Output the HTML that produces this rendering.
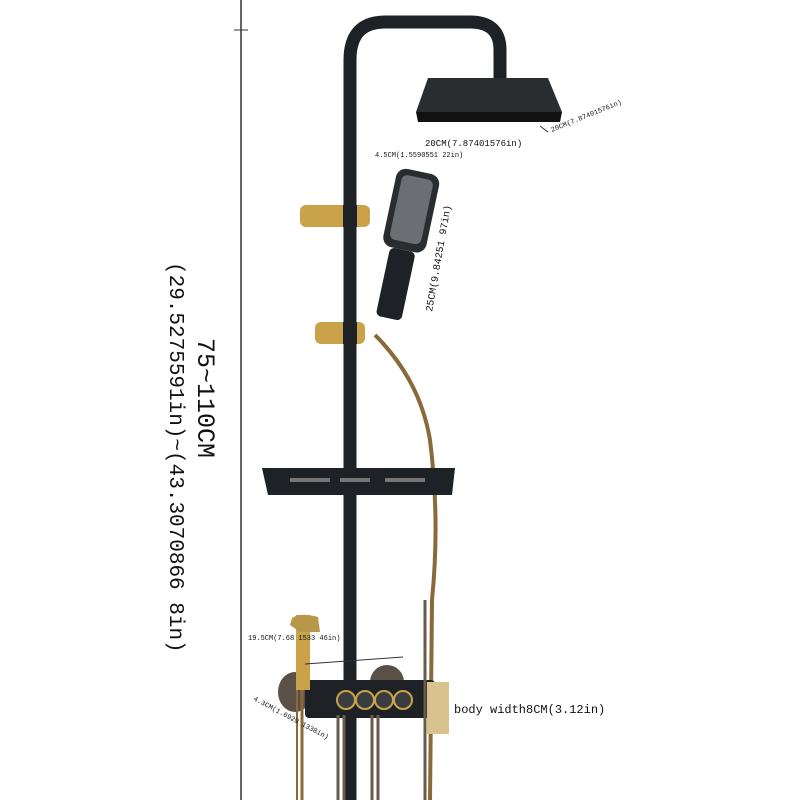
<!DOCTYPE html>
<html><head><style>
html,body{margin:0;padding:0;background:#fff}
svg{display:block}
text{font-family:"Liberation Mono",monospace;fill:#111}
</style></head><body>
<svg width="800" height="800" viewBox="0 0 800 800" xmlns="http://www.w3.org/2000/svg">
<rect width="800" height="800" fill="#fff"/>
<line x1="241" y1="0" x2="241" y2="800" stroke="#333" stroke-width="1.5"/>
<line x1="234" y1="30" x2="248" y2="30" stroke="#333"/>
<text transform="translate(198,338) rotate(90)" font-size="25" font-family="Liberation Sans">75~110CM</text>
<text transform="translate(170,262) rotate(90)" font-size="21" font-family="Liberation Sans">(29.5275591in)~(43.3070866 8in)</text>
<path d="M350 800 L350 60 Q350 22 385 22 L470 22 Q500 22 500 50 L500 78" fill="none" stroke="#1e2226" stroke-width="13"/>
<polygon points="428,78 548,78 562,112 416,112" fill="#2a2d30"/>
<polygon points="416,112 562,112 560,122 418,122" fill="#111"/>
<line x1="540" y1="126" x2="548" y2="132" stroke="#333"/>
<text x="425" y="146" font-size="9">20CM(7.87401576in)</text>
<text transform="translate(552,132) rotate(-22)" font-size="7">20CM(7.87401576in)</text>
<g transform="rotate(12,405,240)">
<rect x="383" y="170" width="44" height="80" rx="10" fill="#2a2d30"/>
<rect x="389" y="176" width="32" height="66" rx="6" fill="#6b6e72"/>
<rect x="392" y="250" width="26" height="70" rx="5" fill="#1e2226"/>
</g>
<text x="375" y="157" font-size="7">4.5CM(1.5590551 22in)</text>
<text transform="translate(432,312) rotate(-80)" font-size="10">25CM(9.84251 97in)</text>
<rect x="300" y="205" width="70" height="22" rx="6" fill="#c9a24a"/>
<rect x="343" y="205" width="14" height="22" fill="#1e2226"/>
<rect x="315" y="322" width="50" height="22" rx="6" fill="#c9a24a"/>
<rect x="343" y="322" width="14" height="22" fill="#1e2226"/>
<path d="M375 335 Q420 380 430 440 Q440 520 432 600 L430 800" fill="none" stroke="#8a6a3a" stroke-width="4"/>
<polygon points="262,468 455,468 452,495 268,495" fill="#1e2226"/>
<rect x="290" y="478" width="40" height="4" fill="#777"/>
<rect x="340" y="478" width="30" height="4" fill="#777"/>
<rect x="385" y="478" width="40" height="4" fill="#777"/>
<ellipse cx="295" cy="692" rx="17" ry="20" fill="#5a5048"/>
<ellipse cx="387" cy="682" rx="17" ry="17" fill="#5a5048"/>
<rect x="305" y="680" width="130" height="38" rx="4" fill="#1e2226"/>
<circle cx="346" cy="700" r="9" fill="#3a3d40" stroke="#c9a24a" stroke-width="2"/>
<circle cx="365" cy="700" r="9" fill="#3a3d40" stroke="#c9a24a" stroke-width="2"/>
<circle cx="384" cy="700" r="9" fill="#3a3d40" stroke="#c9a24a" stroke-width="2"/>
<circle cx="403" cy="700" r="9" fill="#3a3d40" stroke="#c9a24a" stroke-width="2"/>
<rect x="427" y="682" width="22" height="52" fill="#d8c38e"/>
<rect x="296" y="615" width="14" height="75" fill="#c9a24a"/>
<path d="M290 625 L292 618 Q300 612 318 617 L320 632 L300 632 Z" fill="#b8964a"/>
<line x1="302" y1="690" x2="302" y2="800" stroke="#8a6a3a" stroke-width="3"/>
<line x1="297" y1="690" x2="297" y2="800" stroke="#8a6a3a" stroke-width="2"/>
<line x1="338" y1="715" x2="338" y2="800" stroke="#6a5a4a" stroke-width="3"/>
<line x1="344" y1="715" x2="344" y2="800" stroke="#6a5a4a" stroke-width="3"/>
<line x1="372" y1="715" x2="372" y2="800" stroke="#6a5a4a" stroke-width="3"/>
<line x1="378" y1="715" x2="378" y2="800" stroke="#6a5a4a" stroke-width="3"/>
<line x1="425" y1="600" x2="425" y2="800" stroke="#6a5a4a" stroke-width="3"/>
<line x1="305" y1="664" x2="403" y2="657" stroke="#333"/>
<text x="248" y="640" font-size="7">19.5CM(7.68 1533 46in)</text>
<text transform="translate(253,700) rotate(28)" font-size="7">4.3CM(1.6929 1338in)</text>
<text x="454" y="713" font-size="12">body width8CM(3.12in)</text>
</svg>
</body></html>
